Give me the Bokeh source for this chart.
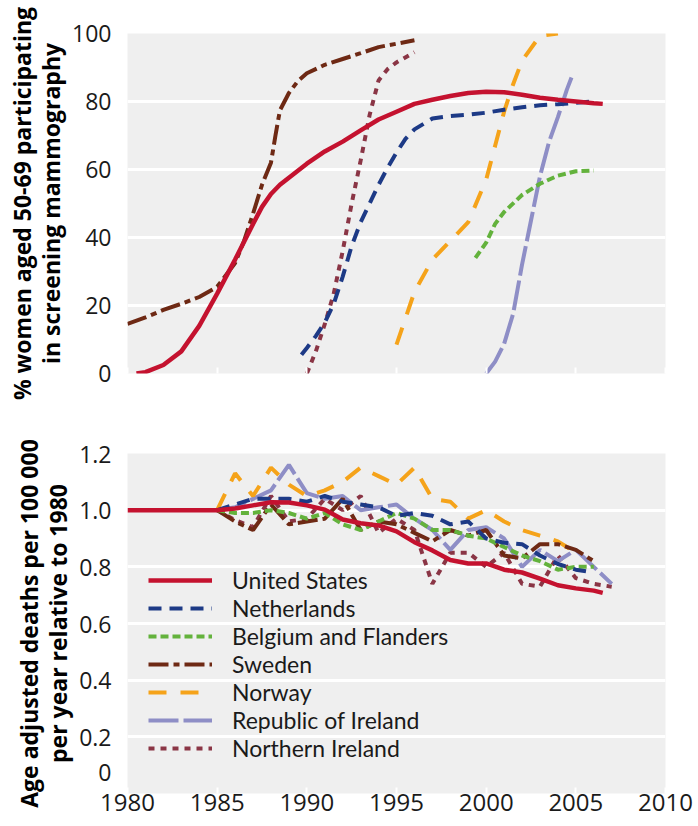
from bokeh.plotting import figure
from bokeh.layouts import column
from bokeh.models import Range1d, FixedTicker, Legend, LegendItem, CustomJSTickFormatter
from bokeh.embed import file_html
from bokeh.resources import INLINE

# ---------------- Top panel: % women 50-69 participating in screening ----------------
us_top_years = [1980.5, 1981, 1982, 1983, 1984, 1985, 1986, 1987, 1987.5, 1988, 1988.5, 1989,
                1990, 1991, 1992, 1993, 1994, 1995, 1996, 1997, 1998, 1999, 2000, 2001, 2002,
                2003, 2004, 2005, 2006, 2006.5]
us_top_vals = [0, 0.4, 2.5, 6.5, 14, 23.5, 33.5, 44, 49, 52.8, 55.5, 57.6,
               61.7, 65.3, 68.2, 71.5, 74.7, 77, 79.3, 80.5, 81.6, 82.5, 82.9, 82.7, 82,
               81.1, 80.5, 80, 79.5, 79.3]

se_top_years = [1980, 1981, 1982, 1983, 1984, 1985, 1986, 1986.5, 1987, 1987.5, 1988, 1988.25,
                1988.5, 1989, 1989.5, 1990, 1991, 1992, 1993, 1994, 1995, 1996]
se_top_vals = [14.6, 16.5, 18.7, 20.5, 22.5, 25.5, 32.5, 39, 47, 55.5, 62, 70,
               77.4, 82.5, 86, 88.3, 90.8, 92.5, 94.2, 96, 97, 98]

ni_top_years = [1990, 1990.5, 1991, 1991.5, 1992, 1992.5, 1993, 1993.5, 1994, 1994.5, 1995, 1996]
ni_top_vals = [0, 6.5, 14.5, 23.5, 36, 50, 62.6, 76, 86.2, 89.5, 91.5, 94.5]

nl_top_years = [1989.7, 1990, 1990.5, 1991, 1991.5, 1992, 1992.5, 1993, 1993.5, 1994, 1994.5,
                1995, 1995.5, 1996, 1997, 1998, 1999, 2000, 2001, 2002, 2003, 2004, 2005, 2006]
nl_top_vals = [5.5, 7.5, 11, 15, 20.5, 28.5, 37.5, 44.5, 50, 55.5, 60.5,
               65, 69, 71.8, 75, 75.7, 76.1, 76.7, 77.6, 78.3, 78.9, 79.2, 79.6, 80]

no_top_years = [1995, 1996, 1997, 1998, 1999, 2000, 2000.5, 2001, 2001.5, 2002, 2003, 2004]
no_top_vals = [8.5, 24, 33.5, 39, 44.5, 57, 67, 77, 85, 92, 99.3, 100]

be_top_years = [1999.4, 2000, 2000.5, 2001, 2002, 2003, 2004, 2005, 2006]
be_top_vals = [34, 38.5, 44, 47.5, 52.5, 55.8, 58.2, 59.5, 59.7]

ie_top_years = [2000, 2000.5, 2001, 2001.5, 2002, 2002.5, 2003, 2003.5, 2004, 2004.5, 2004.8]
ie_top_vals = [0, 3.5, 8.7, 17.5, 32, 45, 58, 68, 75.4, 83.5, 87.6]

# ---------------- Bottom panel: deaths relative to 1980 ----------------
us_bot_years = [1980, 1981, 1982, 1983, 1984, 1985, 1986, 1987, 1988, 1989, 1990, 1991, 1992,
                1993, 1994, 1995, 1996, 1997, 1998, 1999, 2000, 2001, 2002, 2003, 2004, 2005,
                2006, 2006.5]
us_bot_vals = [1.0, 1.0, 1.0, 1.0, 1.0, 1.0, 1.006, 1.017, 1.028, 1.027, 1.017, 1.002, 0.967,
               0.954, 0.946, 0.925, 0.887, 0.858, 0.824, 0.812, 0.812, 0.79, 0.78, 0.758, 0.735,
               0.724, 0.716, 0.708]

nl_bot_years = [1985, 1986, 1987, 1988, 1989, 1990, 1991, 1992, 1993, 1994, 1995, 1996, 1997,
                1998, 1999, 2000, 2001, 2002, 2003, 2004, 2005, 2006]
nl_bot_vals = [1.0, 1.02, 1.04, 1.04, 1.04, 1.03, 1.05, 1.03, 1.02, 1.01, 0.98, 0.99, 0.98,
               0.95, 0.96, 0.9, 0.885, 0.88, 0.84, 0.81, 0.79, 0.78]

be_bot_years = [1985, 1986, 1987, 1988, 1989, 1990, 1991, 1992, 1993, 1994, 1995, 1996, 1997,
                1998, 1999, 2000, 2001, 2002, 2003, 2004, 2005, 2006]
be_bot_vals = [1.0, 0.99, 0.99, 1.0, 0.99, 0.97, 0.99, 0.95, 0.93, 0.96, 0.99, 0.97, 0.93,
               0.93, 0.91, 0.9, 0.87, 0.84, 0.82, 0.79, 0.8, 0.8]

se_bot_years = [1985, 1986, 1987, 1988, 1989, 1990, 1991, 1992, 1993, 1994, 1995, 1996, 1997,
                1998, 1999, 2000, 2001, 2002, 2003, 2004, 2005, 2006]
se_bot_vals = [1.0, 0.96, 0.93, 1.02, 0.95, 0.96, 0.97, 1.04, 0.93, 0.96, 0.95, 0.92, 0.89,
               0.93, 0.91, 0.93, 0.84, 0.83, 0.88, 0.88, 0.86, 0.82]

no_bot_years = [1985, 1986, 1987, 1988, 1989, 1990, 1991, 1992, 1993, 1994, 1995, 1996, 1997,
                1998, 1999, 2000, 2001, 2002, 2003, 2004, 2005]
no_bot_vals = [1.0, 1.13, 1.05, 1.15, 1.09, 1.05, 1.07, 1.10, 1.15, 1.12, 1.09, 1.15, 1.04,
               1.03, 0.97, 1.0, 0.96, 0.93, 0.91, 0.89, 0.85]

ie_bot_years = [1985, 1986, 1987, 1988, 1989, 1990, 1991, 1992, 1993, 1994, 1995, 1996, 1997,
                1998, 1999, 2000, 2001, 2002, 2003, 2004, 2005, 2006, 2007]
ie_bot_vals = [1.0, 1.01, 1.04, 1.07, 1.16, 1.06, 1.04, 1.05, 1.0, 1.01, 1.02, 0.97, 0.93,
               0.86, 0.93, 0.94, 0.9, 0.8, 0.86, 0.82, 0.86, 0.8, 0.74]

ni_bot_years = [1985, 1986, 1987, 1988, 1989, 1990, 1991, 1992, 1993, 1994, 1995, 1996, 1997,
                1998, 1999, 2000, 2001, 2002, 2003, 2004, 2005, 2006, 2007]
ni_bot_vals = [1.0, 0.965, 0.94, 1.05, 0.96, 0.97, 1.04, 1.0, 1.05, 0.92, 0.97, 0.93, 0.74,
               0.85, 0.85, 0.8, 0.85, 0.74, 0.73, 0.84, 0.76, 0.74, 0.73]

x_ticks = [1980, 1985, 1990, 1995, 2000, 2005, 2010]
top_yticks = [0, 20, 40, 60, 80, 100]
bot_yticks = [0, 0.2, 0.4, 0.6, 0.8, 1.0, 1.2]

series_names = ["United States", "Netherlands", "Belgium and Flanders", "Sweden", "Norway",
                "Republic of Ireland", "Northern Ireland"]

STYLE = {
    "United States": dict(color="#c4122f", dash="solid", width=4.5),
    "Netherlands": dict(color="#1d3a86", dash="13 8", width=4),
    "Belgium and Flanders": dict(color="#63b23c", dash="8 4", width=4),
    "Sweden": dict(color="#6e2914", dash="20 5 6 5", width=4),
    "Norway": dict(color="#f5a31a", dash="18 14", width=4),
    "Republic of Ireland": dict(color="#8e8ec6", dash="30 5", width=4),
    "Northern Ireland": dict(color="#8a3545", dash="6 6", width=4),
}

TICK_FONT = "Open Sans"
LEGEND_FONT = "Lato"
TITLE_FONT = "Open Sans"
TEXT_COLOR = "#1a1a1a"
FIG_W = 698


def make_panel(height, border_top, border_bottom, y_range, yticks, title, show_xlabels):
    p = figure(width=FIG_W, height=height, x_range=Range1d(1980, 2010), y_range=y_range,
               output_backend="svg", toolbar_location=None,
               min_border_left=127, min_border_right=33,
               min_border_top=border_top, min_border_bottom=border_bottom)
    p.background_fill_color = "#efefef"
    p.border_fill_color = "white"
    p.outline_line_color = None

    p.xaxis.ticker = FixedTicker(ticks=x_ticks)
    p.xaxis.axis_line_color = None
    p.xaxis.major_tick_line_color = "white"
    p.xaxis.major_tick_line_width = 2
    p.xaxis.major_tick_in = 6
    p.xaxis.major_tick_out = 0
    p.xaxis.minor_tick_line_color = None
    p.xaxis.major_label_standoff = 0
    p.xaxis.major_label_text_font = TICK_FONT
    p.xaxis.major_label_text_font_size = "24px"
    p.xaxis.major_label_text_color = TEXT_COLOR
    if not show_xlabels:
        p.xaxis.formatter = CustomJSTickFormatter(code="return ''")

    yt = FixedTicker(ticks=yticks)
    p.yaxis.ticker = yt
    p.ygrid.ticker = yt
    p.ygrid.grid_line_color = "white"
    p.ygrid.grid_line_width = 3
    p.xgrid.visible = False
    p.yaxis.axis_line_color = None
    p.yaxis.major_tick_line_color = None
    p.yaxis.minor_tick_line_color = None
    p.yaxis.major_label_standoff = 10
    p.yaxis.major_label_text_font = TICK_FONT
    p.yaxis.major_label_text_font_size = "23px"
    p.yaxis.major_label_text_color = TEXT_COLOR
    p.yaxis.axis_label = title
    p.yaxis.axis_label_text_font = TITLE_FONT
    p.yaxis.axis_label_text_font_style = "bold"
    p.yaxis.axis_label_text_font_size = "23px"
    p.yaxis.axis_label_text_line_height = 0.9
    p.yaxis.axis_label_text_color = "black"
    p.yaxis.axis_label_standoff = 2
    return p


top = make_panel(413, 33, 40, Range1d(0, 100), top_yticks,
                 "% women aged 50-69 participating\nin screening mammography", False)
bot = make_panel(413, 40, 33, Range1d(0, 1.2), bot_yticks,
                 "Age adjusted deaths per 100 000\nper year relative to 1980", True)
bot.yaxis.major_label_overrides = {0: "0\n", 1: "1.0"}

top_data = {
    "Northern Ireland": (ni_top_years, ni_top_vals),
    "Republic of Ireland": (ie_top_years, ie_top_vals),
    "Norway": (no_top_years, no_top_vals),
    "Belgium and Flanders": (be_top_years, be_top_vals),
    "Sweden": (se_top_years, se_top_vals),
    "Netherlands": (nl_top_years, nl_top_vals),
    "United States": (us_top_years, us_top_vals),
}
bot_data = {
    "Northern Ireland": (ni_bot_years, ni_bot_vals),
    "Republic of Ireland": (ie_bot_years, ie_bot_vals),
    "Norway": (no_bot_years, no_bot_vals),
    "Sweden": (se_bot_years, se_bot_vals),
    "Belgium and Flanders": (be_bot_years, be_bot_vals),
    "Netherlands": (nl_bot_years, nl_bot_vals),
    "United States": (us_bot_years, us_bot_vals),
}

for name, (xs, ys) in top_data.items():
    s = STYLE[name]
    top.line(xs, ys, line_color=s["color"], line_width=s["width"], line_dash=s["dash"])

renderers = {}
for name, (xs, ys) in bot_data.items():
    s = STYLE[name]
    renderers[name] = bot.line(xs, ys, line_color=s["color"], line_width=s["width"],
                               line_dash=s["dash"])

legend = Legend(items=[LegendItem(label=n, renderers=[renderers[n]]) for n in series_names],
                location=(21, 31), orientation="vertical",
                glyph_width=64, glyph_height=28, label_height=28, label_standoff=20,
                spacing=0, padding=0, margin=0,
                background_fill_alpha=0, border_line_alpha=0,
                label_text_font=LEGEND_FONT, label_text_font_size="23px",
                label_text_color=TEXT_COLOR)
bot.add_layout(legend)

layout = column(top, bot, spacing=0)
open("out.html", "w").write(file_html(layout, INLINE))
